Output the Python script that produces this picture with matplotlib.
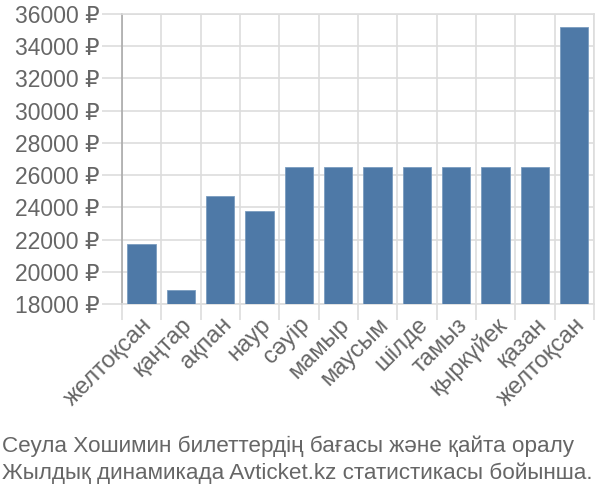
import matplotlib
matplotlib.use("Agg")
import matplotlib.pyplot as plt
import numpy as np

plt.rcParams['font.family'] = ['Liberation Sans', 'DejaVu Sans']

months = ["желтоқсан", "қаңтар", "ақпан", "наур", "сәуір", "мамыр", "маусым",
          "шілде", "тамыз", "қыркүйек", "қазан", "желтоқсан"]
prices = [21700, 18900, 24700, 23800, 26500, 26500, 26500,
          26500, 26500, 26500, 26500, 35200]
yticks = list(range(18000, 36001, 2000))
caption = ["Сеула Хошимин билеттердің бағасы және қайта оралу",
           "Жылдық динамикада Avticket.kz статистикасы бойынша."]

txt = "#666666"
grid = "#dddddd"

fig = plt.figure(figsize=(6, 5), dpi=100)
ax = fig.add_axes([0.203, 0.392, 0.787, 0.58])

x = np.arange(len(months))
ax.bar(x, np.array(prices) - 18000, bottom=18000, width=0.72,
       color="#4e79a7", edgecolor="#7a9cc0", linewidth=0.6, zorder=3)

ax.set_xlim(-0.5, len(months) - 0.5)
ax.set_ylim(18000, 36000)
ax.set_yticks(yticks)
ax.set_yticklabels([f"{v} ₽" for v in yticks], fontsize=16.5, color=txt)

# boundaries between categories carry the grid and ticks
ax.set_xticks(np.arange(-0.5, len(months), 1.0))
ax.set_xticklabels([])
ax.set_xticks(x, minor=True)
ax.set_xticklabels(months, minor=True, rotation=45, ha="right",
                   rotation_mode="anchor", fontsize=17, color=txt)
ax.tick_params(axis="x", which="minor", length=0, pad=7)
ax.tick_params(axis="x", which="major", length=11.5, color=grid, width=1.2)
ax.tick_params(axis="y", length=14.4, color=grid, width=1.2, pad=1.5)

ax.grid(True, which="major", color=grid, linewidth=1.2, zorder=0)
ax.set_axisbelow(True)
for s in ["top", "right", "bottom"]:
    ax.spines[s].set_color(grid)
    ax.spines[s].set_linewidth(1.2)
ax.spines["left"].set_color("#aaaaaa")
ax.spines["left"].set_linewidth(1.2)

fig.text(0.003, 0.107, caption[0], fontsize=16.2, color=txt, ha="left", va="center")
fig.text(0.003, 0.053, caption[1], fontsize=16.2, color=txt, ha="left", va="center")

fig.savefig("out.png", dpi=100)
